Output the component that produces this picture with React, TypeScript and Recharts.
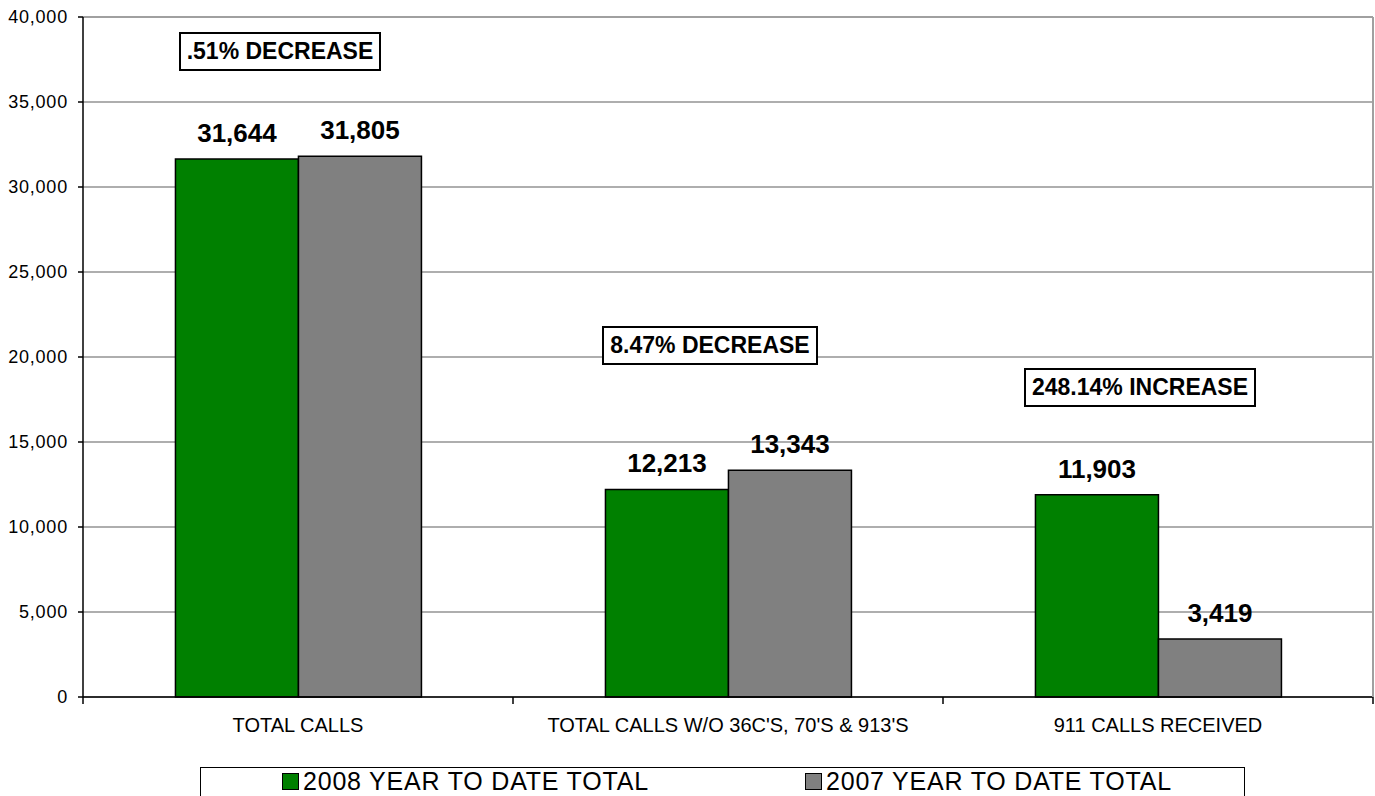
import React from 'react';
import {
    BarChart,
    Bar,
    XAxis,
    YAxis,
    CartesianGrid,
    Legend,
    LabelList,
    ReferenceDot,
    ReferenceLine
} from 'recharts';

const categories = ['TOTAL CALLS', "TOTAL CALLS W/O 36C'S, 70'S & 913'S", '911 CALLS RECEIVED'];
const ytd2008 = [31644, 12213, 11903];
const ytd2007 = [31805, 13343, 3419];
const seriesNames = ['2008 YEAR TO DATE TOTAL', '2007 YEAR TO DATE TOTAL'];
const seriesColors = ['#008000', '#808080'];
const changeNotes = ['.51% DECREASE', '8.47% DECREASE', '248.14% INCREASE'];
const noteLevels = [38000, 20700, 18200];
const yTicks = [0, 5000, 10000, 15000, 20000, 25000, 30000, 35000, 40000];
const boundaryTicks = [0, 1, 2, 3];

const FONT = '"Liberation Sans", Arial, sans-serif';

const chartData = categories.map((name, i) => ({
    name,
    pos: i + 0.5,
    y2008: ytd2008[i],
    y2007: ytd2007[i]
}));

const fmt = (v: number) => Number(v).toLocaleString('en-US');

const ValueLabel = (props: any) => {
    const { x, y, width, value } = props;
    return (
        <text x={x + width / 2} y={y - 17} fill="#000" fontSize={26} fontWeight={700} fontFamily={FONT} textAnchor="middle">
            {fmt(value)}
        </text>
    );
};

const CategoryTick = (props: any) => {
    const { x, y, payload } = props;
    return (
        <text x={x} y={y + 28} fill="#000" fontSize={20} fontFamily={FONT} textAnchor="middle">
            {payload.value}
        </text>
    );
};

const NoteBox = (text: string) => (props: any) => {
    const { cx, cy } = props;
    return (
        <foreignObject x={cx - 18 - 200} y={cy - 20} width={400} height={40}>
            <div style={{ display: 'flex', justifyContent: 'center', alignItems: 'center', height: 40 }}>
                <span style={{
                    border: '2px solid #000',
                    background: '#fff',
                    fontFamily: FONT,
                    fontWeight: 700,
                    fontSize: 23,
                    lineHeight: '27px',
                    padding: '4px 6px',
                    color: '#000',
                    whiteSpace: 'nowrap'
                }}>
                    {text}
                </span>
            </div>
        </foreignObject>
    );
};

const LegendBox = () => (
    <div style={{
        boxSizing: 'border-box',
        width: 1045,
        height: 40,
        border: '1px solid #000',
        background: '#fff',
        display: 'flex',
        alignItems: 'flex-start',
        paddingLeft: 81,
        paddingTop: 4,
        fontFamily: FONT,
        fontSize: 25,
        letterSpacing: 0.8,
        lineHeight: '18px',
        color: '#000'
    }}>
        {seriesNames.map((name, i) => (
            <div key={name} style={{ display: 'flex', alignItems: 'center', width: i === 0 ? 523 : 'auto' }}>
                <span style={{
                    display: 'inline-block',
                    boxSizing: 'border-box',
                    width: 17,
                    height: 17,
                    background: seriesColors[i],
                    border: '1.5px solid #000',
                    marginRight: 4
                }} />
                <span>{name}</span>
            </div>
        ))}
    </div>
);

export default function App() {
    return (
        <div style={{ position: 'absolute', left: 0, top: 0, width: 1375, height: 796, overflow: 'hidden', background: '#fff' }}>
            <BarChart
                width={1375}
                height={796}
                data={chartData}
                margin={{ top: 17, right: 0, left: 0, bottom: 52 }}
                barCategoryGap="21.5%"
                barGap={0}
            >
                <CartesianGrid vertical={false} stroke="#5e5e5e" strokeWidth={1.2} />
                {/* number axis only for the tick marks between categories */}
                <XAxis
                    dataKey="pos"
                    type="number"
                    domain={[0, 3]}
                    ticks={boundaryTicks}
                    height={7}
                    tickSize={7}
                    tickFormatter={() => ''}
                    axisLine={{ stroke: '#000', strokeWidth: 1.5 }}
                    tickLine={{ stroke: '#000', strokeWidth: 1.5 }}
                />
                <XAxis
                    xAxisId="cat"
                    dataKey="name"
                    height={40}
                    axisLine={false}
                    tickLine={false}
                    tickSize={0}
                    tickMargin={0}
                    interval={0}
                    tick={<CategoryTick />}
                />
                <YAxis
                    width={83}
                    domain={[0, 40000]}
                    ticks={yTicks}
                    tickFormatter={fmt}
                    tickSize={5}
                    tickMargin={10}
                    axisLine={{ stroke: '#000', strokeWidth: 1.5 }}
                    tickLine={{ stroke: '#000', strokeWidth: 1.5 }}
                    tick={{ fill: '#000', fontSize: 18, fontFamily: FONT, letterSpacing: 0.8 }}
                    interval={0}
                />
                <YAxis
                    yAxisId="frame"
                    orientation="right"
                    width={2}
                    domain={[0, 1]}
                    tick={false}
                    tickLine={false}
                    axisLine={{ stroke: '#a0a0a0', strokeWidth: 2 }}
                />
                <ReferenceLine y={40000} stroke="#a0a0a0" strokeWidth={2} />
                <Bar xAxisId="cat" dataKey="y2008" name={seriesNames[0]} fill={seriesColors[0]} stroke="#000" strokeWidth={1.5} isAnimationActive={false}>
                    <LabelList dataKey="y2008" content={ValueLabel} />
                </Bar>
                <Bar xAxisId="cat" dataKey="y2007" name={seriesNames[1]} fill={seriesColors[1]} stroke="#000" strokeWidth={1.5} isAnimationActive={false}>
                    <LabelList dataKey="y2007" content={ValueLabel} />
                </Bar>
                {changeNotes.map((note, i) => (
                    <ReferenceDot
                        key={note}
                        xAxisId="cat"
                        x={categories[i]}
                        y={noteLevels[i]}
                        r={0}
                        ifOverflow="visible"
                        shape={NoteBox(note)}
                    />
                ))}
                <Legend
                    layout="horizontal"
                    verticalAlign="middle"
                    align="center"
                    width={1045}
                    height={40}
                    wrapperStyle={{ left: 200, top: 767, width: 1045, height: 40 }}
                    content={() => <LegendBox />}
                />
            </BarChart>
        </div>
    );
}
